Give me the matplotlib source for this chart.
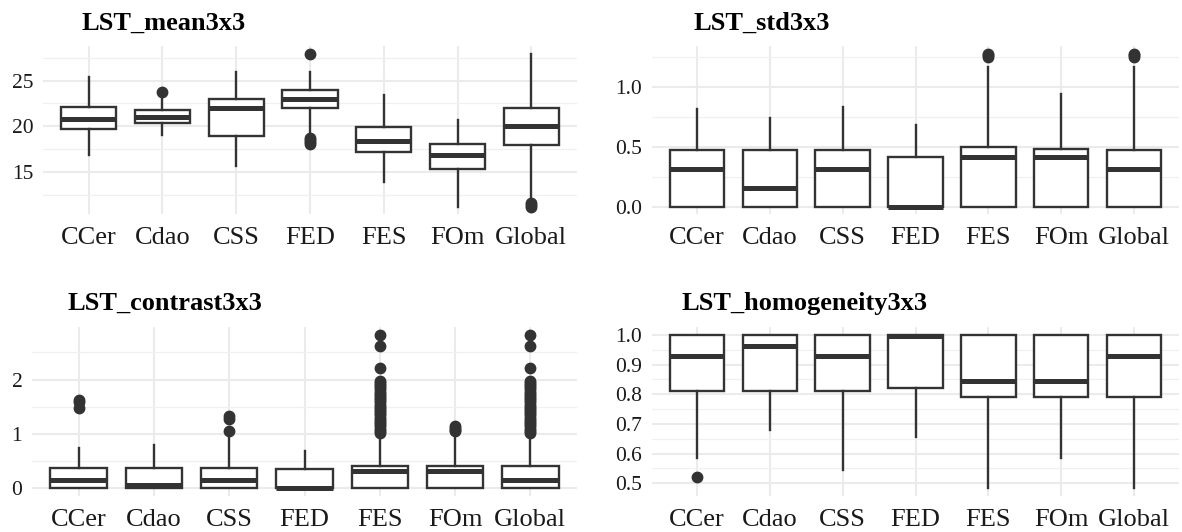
import matplotlib
matplotlib.use("Agg")
import matplotlib.pyplot as plt
from matplotlib.ticker import FixedLocator

plt.rcParams['font.family'] = ['Liberation Serif', 'DejaVu Serif']

categories = ["CCer", "Cdao", "CSS", "FED", "FES", "FOm", "Global"]

# ---- LST_mean3x3 ----
mean_whislo = [16.9, 19.0, 15.6, 19.0, 13.9, 11.2, 12.0]
mean_q1 = [19.7, 20.4, 18.95, 21.97, 17.15, 15.3, 18.0]
mean_med = [20.8, 21.05, 21.97, 22.96, 18.4, 16.9, 20.0]
mean_q3 = [22.1, 21.8, 22.96, 23.98, 19.9, 18.1, 22.0]
mean_whishi = [25.35, 23.2, 25.92, 25.92, 23.43, 20.7, 27.95]
mean_fliers = [[], [23.7], [], [27.92, 18.7, 18.5, 18.3, 18.1], [], [], [11.6, 11.4, 11.2]]

# ---- LST_std3x3 ----
std_whislo = [0.0, 0.0, 0.0, 0.0, 0.0, 0.0, 0.0]
std_q1 = [0.0, 0.0, 0.0, 0.0, 0.0, 0.0, 0.0]
std_med = [0.316, 0.16, 0.316, 0.0, 0.414, 0.414, 0.316]
std_q3 = [0.477, 0.477, 0.477, 0.417, 0.498, 0.479, 0.477]
std_whishi = [0.817, 0.74, 0.836, 0.685, 1.169, 0.943, 1.169]
std_fliers = [[], [], [], [], [1.25, 1.27, 1.28], [], [1.25, 1.27, 1.28]]

# ---- LST_contrast3x3 ----
con_whislo = [0.0, 0.0, 0.0, 0.0, 0.0, 0.0, 0.0]
con_q1 = [0.0, 0.0, 0.0, 0.0, 0.0, 0.0, 0.0]
con_med = [0.16, 0.06, 0.16, 0.0, 0.32, 0.32, 0.16]
con_q3 = [0.374, 0.374, 0.374, 0.356, 0.41, 0.41, 0.417]
con_whishi = [0.74, 0.80, 0.93, 0.68, 0.99, 0.98, 0.99]
con_dense = [1.02, 1.06, 1.10, 1.14, 1.18, 1.22, 1.26, 1.30, 1.34, 1.38,
             1.42, 1.46, 1.50, 1.54, 1.58, 1.62, 1.66, 1.70, 1.74, 1.78,
             1.82, 1.86, 1.90, 1.94, 1.98, 2.22, 2.62, 2.82]
con_fliers = [[1.62, 1.58, 1.47], [], [1.33, 1.27, 1.06], [], con_dense,
              [1.05, 1.08, 1.11, 1.14], con_dense]

# ---- LST_homogeneity3x3 ----
hom_whislo = [0.585, 0.681, 0.545, 0.657, 0.483, 0.585, 0.483]
hom_q1 = [0.811, 0.811, 0.811, 0.822, 0.792, 0.792, 0.792]
hom_med = [0.928, 0.963, 0.928, 0.998, 0.844, 0.844, 0.928]
hom_q3 = [1.0, 1.0, 1.0, 1.0, 1.0, 1.0, 1.0]
hom_whishi = [1.0, 1.0, 1.0, 1.0, 1.0, 1.0, 1.0]
hom_fliers = [[0.522], [], [], [], [], [], []]

titles = ["LST_mean3x3", "LST_std3x3", "LST_contrast3x3", "LST_homogeneity3x3"]
mean_yticks = [15, 20, 25]
mean_yminor = [12.5, 17.5, 22.5, 27.5]
std_yticks = [0.0, 0.5, 1.0]
std_yminor = [0.25, 0.75, 1.25]
con_yticks = [0, 1, 2]
con_yminor = [0.5, 1.5, 2.5]
hom_yticks = [0.5, 0.6, 0.7, 0.8, 0.9, 1.0]
hom_yminor = [0.55, 0.65, 0.75, 0.85, 0.95]

W, H = 1182, 532
fig = plt.figure(figsize=(W / 100, H / 100), dpi=100)
fig.patch.set_facecolor("white")

DARK = "#333333"
GRID = "#EBEBEB"


def rect(l, r, t, b):
    return [l / W, 1 - b / H, (r - l) / W, (b - t) / H]


panels = [
    dict(rect=rect(43, 577, 46, 214.3), title=titles[0], tpos=(82, 29.5),
         data=(mean_whislo, mean_q1, mean_med, mean_q3, mean_whishi, mean_fliers),
         yt=mean_yticks, ym=mean_yminor, fmt="{:g}"),
    dict(rect=rect(652, 1179, 46, 214.3), title=titles[1], tpos=(693, 30),
         data=(std_whislo, std_q1, std_med, std_q3, std_whishi, std_fliers),
         yt=std_yticks, ym=std_yminor, fmt="{:.1f}"),
    dict(rect=rect(32, 577, 327.3, 496), title=titles[2], tpos=(68, 310),
         data=(con_whislo, con_q1, con_med, con_q3, con_whishi, con_fliers),
         yt=con_yticks, ym=con_yminor, fmt="{:g}"),
    dict(rect=rect(652, 1179, 327.3, 496), title=titles[3], tpos=(681.5, 310),
         data=(hom_whislo, hom_q1, hom_med, hom_q3, hom_whishi, hom_fliers),
         yt=hom_yticks, ym=hom_yminor, fmt="{:.1f}"),
]

for p in panels:
    ax = fig.add_axes(p["rect"])
    wl, q1, md, q3, wh, fl = p["data"]
    stats = []
    for i, c in enumerate(categories):
        stats.append(dict(label=c, whislo=wl[i], q1=q1[i], med=md[i],
                          q3=q3[i], whishi=wh[i], fliers=fl[i]))
    positions = list(range(1, len(categories) + 1))
    ax.bxp(stats, positions=positions, widths=0.75, patch_artist=True,
           showcaps=False,
           boxprops=dict(facecolor="white", edgecolor=DARK, linewidth=1.7),
           medianprops=dict(color=DARK, linewidth=3.6, solid_capstyle="butt"),
           whiskerprops=dict(color=DARK, linewidth=1.7),
           flierprops=dict(marker="o", markerfacecolor=DARK,
                           markeredgecolor=DARK, markersize=7.5),
           zorder=3)
    # y limits from data with 5% expansion
    lo = min([min(wl)] + [min(f) for f in fl if f])
    hi = max([max(wh)] + [max(f) for f in fl if f])
    pad = 0.05 * (hi - lo)
    ax.set_ylim(lo - pad, hi + pad)
    ax.set_xlim(0.38, 7.62)

    ax.yaxis.set_major_locator(FixedLocator(p["yt"]))
    ax.yaxis.set_minor_locator(FixedLocator(p["ym"]))
    ax.set_yticklabels([p["fmt"].format(v) for v in p["yt"]])
    ax.set_xticks(positions)
    ax.set_xticklabels(categories)

    ax.set_axisbelow(True)
    ax.grid(axis="y", which="major", color=GRID, linewidth=1.5)
    ax.grid(axis="y", which="minor", color="#F0F0F0", linewidth=0.9)
    ax.grid(axis="x", which="major", color=GRID, linewidth=1.5)
    for s in ax.spines.values():
        s.set_visible(False)
    ax.tick_params(axis="both", which="both", length=0)
    ax.tick_params(axis="x", labelsize=19, pad=9.5, labelcolor="#1a1a1a")
    ax.tick_params(axis="y", labelsize=15.5, pad=7, labelcolor="#1a1a1a")
    ax.set_facecolor("white")

    fig.text(p["tpos"][0] / W, 1 - p["tpos"][1] / H, p["title"],
             fontsize=19, fontweight="bold", ha="left", va="baseline",
             color="black")

fig.savefig("out.png", dpi=100, facecolor="white")
